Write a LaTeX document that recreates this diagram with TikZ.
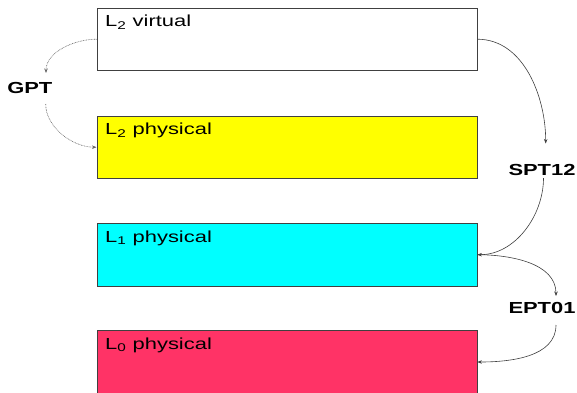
\documentclass[tikz,border=0pt]{standalone}
\usepackage{fontspec}
\usepackage{graphicx}
\setmainfont{Liberation Sans}
\usetikzlibrary{arrows.meta}

\definecolor{levelyellow}{HTML}{FFFF00}
\definecolor{levelcyan}{HTML}{00FFFF}
\definecolor{levelred}{HTML}{FF3366}
\definecolor{edgegray}{HTML}{404040}

% text is set slightly widened
\newcommand{\widetext}[1]{\scalebox{1.37}[1]{#1}}

\tikzset{
  levelbox/.style={draw=edgegray, line width=0.9pt, anchor=north west,
    minimum width=380pt, minimum height=62.5pt, inner sep=0pt},
  boxtitle/.style={anchor=base west, inner sep=0pt, font=\fontsize{16}{18}\selectfont},
  tablelabel/.style={anchor=base, inner sep=0pt, font=\fontsize{16}{18}\selectfont\bfseries},
  solidlink/.style={draw=black!75, line width=0.6pt,
    -{Stealth[length=4.5pt,width=3.5pt]}},
  dottedlink/.style={draw=black!60, line width=0.6pt, dash pattern=on 0.8pt off 0.8pt,
    -{Stealth[length=4.5pt,width=3.5pt]}},
}

\begin{document}
\begin{tikzpicture}[x=1pt, y=-1pt]
  \useasboundingbox (0,0) rectangle (577,392);

  % the four address-space boxes (the last one runs past the lower edge)
  \node[levelbox, fill=white]        (v)  at (96.5,7.5)   {};
  \node[levelbox, fill=levelyellow]  (p2) at (96.5,115.5) {};
  \node[levelbox, fill=levelcyan]    (p1) at (96.5,223)   {};
  \node[levelbox, fill=levelred, minimum height=70pt] (p0) at (96.5,330) {};

  \node[boxtitle] (tv)  at ([xshift=8.5pt,yshift=-19.2pt]v.north west)  {\widetext{L\textsubscript{2} virtual}};
  \node[boxtitle] (tp2) at ([xshift=8.5pt,yshift=-19.2pt]p2.north west) {\widetext{L\textsubscript{2} physical}};
  \node[boxtitle] (tp1) at ([xshift=8.5pt,yshift=-19.2pt]p1.north west) {\widetext{L\textsubscript{1} physical}};
  \node[boxtitle] (tp0) at ([xshift=8.5pt,yshift=-19.2pt]p0.north west) {\widetext{L\textsubscript{0} physical}};

  % page-table labels
  \node[tablelabel] (gpt)  at (29.8,93.3)  {\widetext{GPT}};
  \node[tablelabel] (spt)  at (542,175)    {\widetext{SPT12}};
  \node[tablelabel] (ept)  at (542,313.3)  {\widetext{EPT01}};

  % connector end points next to the labels
  \coordinate (gptin)  at (46,73);
  \coordinate (gptout) at (45.7,104);
  \coordinate (sptin)  at (545.7,143.5);
  \coordinate (sptout) at (543.5,178);
  \coordinate (eptin)  at (556,296);
  \coordinate (eptout) at (556,325);
  \coordinate (p0in)   at (p0.north east |- 0,362);

  % guest page table
  \draw[dottedlink] (v.west) to[out=180, in=90, looseness=0.9] (gptin);
  \draw[dottedlink] (gptout) to[out=-90, in=180, looseness=0.9] (p2.west);

  % shadow page table
  \draw[solidlink] (v.east) to[out=0, in=90, looseness=0.95] (sptin);
  \draw[solidlink] (sptout) to[out=-90, in=0, looseness=0.95] (p1.east);

  % extended page table
  \draw[solidlink] (p1.east) to[out=0, in=90, looseness=0.95] (eptin);
  \draw[solidlink] (eptout) to[out=-90, in=0, looseness=0.95] (p0in);
\end{tikzpicture}
\end{document}
